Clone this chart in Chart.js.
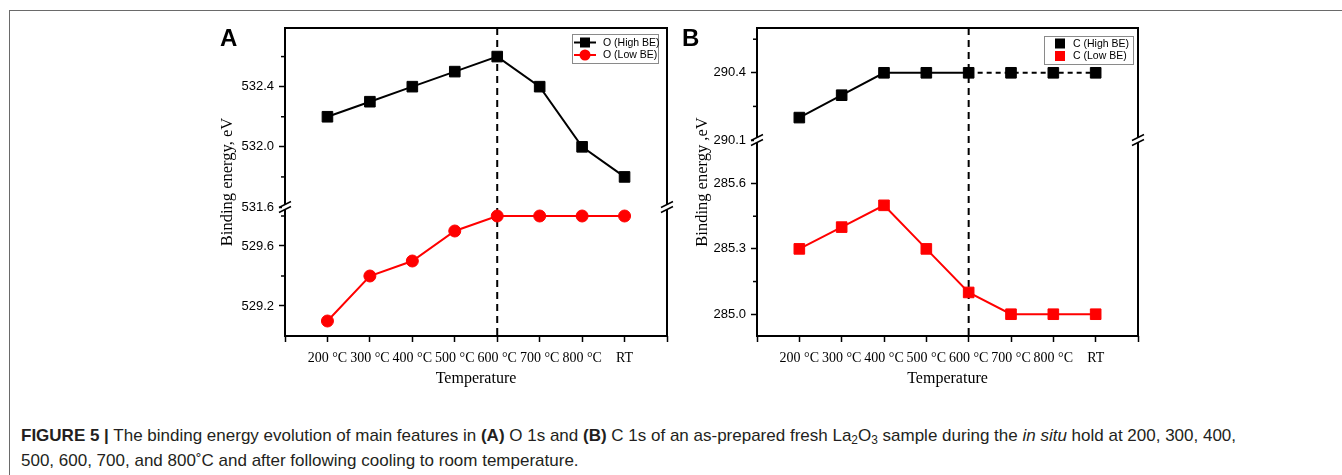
<!DOCTYPE html>
<html>
<head>
<meta charset="utf-8">
<script src="https://cdn.jsdelivr.net/npm/chart.js@4.4.0/dist/chart.umd.min.js"></script>
<style>
  body { margin: 0; width: 1342px; height: 475px; background: #fff; overflow: hidden; position: relative; font-family: "Liberation Sans", Arial, sans-serif; }
  #frame { position: absolute; left: 9px; top: 10px; width: 1400px; height: 500px; border-left: 1.5px solid #6a6a6a; border-top: 1.5px solid #6a6a6a; }
  .panel { position: absolute; top: 0; }
  #caption { position: absolute; left: 21px; top: 423px; font-size: 17px; line-height: 25px; color: #231f20; white-space: nowrap; }
  #caption sub { font-size: 70%; line-height: 0; vertical-align: -3px; }
</style>
</head>
<body>
<div id="frame"></div>
<canvas id="chartA" class="panel" width="480" height="400" style="left:200px"></canvas>
<canvas id="chartB" class="panel" width="480" height="400" style="left:670px"></canvas>
<div id="caption"><b>FIGURE 5 |</b> The binding energy evolution of main features in <b>(A)</b> O 1s and <b>(B)</b> C 1s of an as-prepared fresh La<sub>2</sub>O<sub>3</sub> sample during the <i>in situ</i> hold at 200, 300, 400,<br>500, 600, 700, and 800˚C and after following cooling to room temperature.</div>
<script>
// shared x axis
const xLabels = ['200 °C', '300 °C', '400 °C', '500 °C', '600 °C', '700 °C', '800 °C', 'RT'];
const xPos = [1, 2, 3, 4, 5, 6, 7, 8];
const xTicks = [0, 1, 2, 3, 4, 5, 6, 7, 8, 9];
const markerX = 5; // dashed line at 600 °C

// panel A, O 1s
const oHigh = [532.2, 532.3, 532.4, 532.5, 532.6, 532.4, 532.0, 531.8];
const oLow = [529.1, 529.4, 529.5, 529.7, 529.8, 529.8, 529.8, 529.8];
const aTopTicks = [531.6, 532.0, 532.4];
const aTopMinor = [531.8, 532.2, 532.6];
const aBotTicks = [529.2, 529.6];
const aBotMinor = [529.4, 529.8];

// panel B, C 1s
const cHigh = [290.2, 290.3, 290.4, 290.4, 290.4, 290.4, 290.4, 290.4];
const cLow = [285.3, 285.4, 285.5, 285.3, 285.1, 285.0, 285.0, 285.0];
const bTopTicks = [290.1, 290.4];
const bTopMinor = [290.25, 290.55];
const bBotTicks = [285.0, 285.3, 285.6];
const bBotMinor = [285.15, 285.45];

const toPoints = vals => vals.map((v, i) => ({x: xPos[i], y: v}));

function line(ctx, x1, y1, x2, y2) {
    ctx.beginPath();
    ctx.moveTo(x1, y1);
    ctx.lineTo(x2, y2);
    ctx.stroke();
}

function marker(ctx, style, x, y, r, color) {
    ctx.fillStyle = color;
    if (style == 'circle') {
        ctx.beginPath();
        ctx.arc(x, y, r, 0, Math.PI * 2);
        ctx.fill();
    } else {
        ctx.fillRect(x - r, y - r, 2 * r, 2 * r);
    }
}

function makeDecor(cfg) {
    return {
        id: 'decor',
        beforeDatasetsDraw(chart) {
            const {ctx, chartArea: a, scales} = chart;
            const x = scales.x.getPixelForValue(markerX);
            ctx.save();
            ctx.strokeStyle = '#000';
            ctx.lineWidth = 2;
            ctx.setLineDash([7, 5]);
            line(ctx, x, a.top, x, a.bottom);
            ctx.restore();
        },
        afterDraw(chart) {
            const {ctx, chartArea: a, scales} = chart;
            ctx.save();
            ctx.strokeStyle = '#000';
            ctx.lineWidth = 2;
            ctx.strokeRect(a.left, a.top, a.right - a.left, a.bottom - a.top);

            // minor ticks
            ctx.lineWidth = 1.5;
            cfg.topMinor.forEach(v => {
                const y = scales.yTop.getPixelForValue(v);
                line(ctx, a.left - 4, y, a.left, y);
            });
            cfg.botMinor.forEach(v => {
                const y = scales.yBot.getPixelForValue(v);
                line(ctx, a.left - 4, y, a.left, y);
            });

            // axis break
            const yb = scales.yTop.bottom;
            [a.left, a.right].forEach(xb => {
                ctx.fillStyle = '#fff';
                ctx.fillRect(xb - 3, yb - 2.5, 6, 5);
                ctx.lineWidth = 1.5;
                line(ctx, xb - 6, yb - 2.5 + 3, xb + 6, yb - 2.5 - 3);
                line(ctx, xb - 6, yb + 2.5 + 3, xb + 6, yb + 2.5 - 3);
            });

            // titles
            ctx.fillStyle = '#000';
            ctx.font = '16px "Liberation Serif"';
            ctx.textAlign = 'center';
            ctx.textBaseline = 'middle';
            ctx.fillText('Temperature', (a.left + a.right) / 2, 379);
            ctx.save();
            ctx.translate(cfg.titleX, (a.top + a.bottom) / 2);
            ctx.rotate(-Math.PI / 2);
            ctx.font = '16.5px "Liberation Serif"';
            ctx.fillText(cfg.yTitle, 0, 0);
            ctx.restore();

            ctx.font = 'bold 24px "Liberation Sans"';
            ctx.textAlign = 'left';
            ctx.textBaseline = 'alphabetic';
            ctx.fillText(cfg.letter, cfg.letterX, 46);

            // legend
            const lg = cfg.legend;
            const bx = a.right - lg.right - lg.width;
            const by = a.top + lg.top;
            ctx.strokeStyle = '#8a8a8a';
            ctx.lineWidth = 1;
            ctx.strokeRect(bx + 0.5, by + 0.5, lg.width, lg.height);
            ctx.font = '10.5px "Liberation Sans"';
            ctx.textBaseline = 'middle';
            lg.items.forEach((it, i) => {
                const y = by + lg.rows[i];
                if (lg.lines) {
                    ctx.strokeStyle = it.color;
                    ctx.lineWidth = 2;
                    line(ctx, bx + 2, y, bx + 24, y);
                }
                marker(ctx, it.style, bx + lg.markX, y, it.style == 'circle' ? 5.5 : 5, it.color);
                ctx.fillStyle = '#000';
                ctx.fillText(it.label, bx + lg.textX, y + 0.5);
            });
            ctx.restore();
        }
    };
}

function yScale(min, max, weight, ticks, width) {
    return {
        type: 'linear',
        position: 'left',
        stack: 'y',
        stackWeight: weight,
        min: min,
        max: max,
        afterBuildTicks: s => { s.ticks = ticks.map(v => ({value: v})); },
        afterFit: s => { s.width = width; },
        border: {display: false},
        grid: {drawOnChartArea: false, tickLength: 6, tickColor: '#000', tickWidth: 1.5},
        ticks: {
            color: '#000',
            font: {family: 'Liberation Sans', size: 13},
            padding: 5,
            callback: v => v.toFixed(1)
        }
    };
}

function makeChart(id, cfg) {
    return new Chart(document.getElementById(id), {
        type: 'line',
        data: {datasets: cfg.datasets},
        options: {
            responsive: false,
            animation: false,
            layout: {padding: {top: 28, right: cfg.padRight, left: 0, bottom: 0}},
            plugins: {legend: {display: false}, tooltip: {enabled: false}},
            scales: {
                x: {
                    type: 'linear',
                    min: 0,
                    max: 9,
                    afterBuildTicks: s => { s.ticks = xTicks.map(v => ({value: v})); },
                    afterFit: s => { s.height = 64; },
                    border: {display: false},
                    grid: {drawOnChartArea: false, tickLength: 6, tickColor: '#000', tickWidth: 1.5},
                    ticks: {
                        color: '#000',
                        font: {family: 'Liberation Serif', size: 14},
                        padding: 8,
                        maxRotation: 0,
                        autoSkip: false,
                        callback: v => xLabels[xPos.indexOf(v)] || ''
                    }
                },
                // in a stack the last scale listed sits on top
                yBot: yScale(cfg.bot[0], cfg.bot[1], cfg.bot[2], cfg.botTicks, cfg.yWidth),
                yTop: yScale(cfg.top[0], cfg.top[1], cfg.top[2], cfg.topTicks, cfg.yWidth)
            }
        },
        plugins: [makeDecor(cfg)]
    });
}

makeChart('chartA', {
    datasets: [
        {data: toPoints(oHigh), yAxisID: 'yTop', borderColor: '#000', backgroundColor: '#000', borderWidth: 2,
         pointStyle: 'rect', pointRadius: 7.5, pointBorderWidth: 1},
        {data: toPoints(oLow), yAxisID: 'yBot', borderColor: '#ff0000', backgroundColor: '#ff0000', borderWidth: 2,
         pointStyle: 'circle', pointRadius: 6, pointBorderWidth: 1}
    ],
    top: [531.6, 532.79, 179], bot: [529.0, 529.86, 129],
    topTicks: aTopTicks, botTicks: aBotTicks, topMinor: aTopMinor, botMinor: aBotMinor,
    yWidth: 85, padRight: 13,
    letter: 'A', letterX: 20, yTitle: 'Binding energy, eV', titleX: 28,
    legend: {right: 9, top: 6, width: 86, height: 29, rows: [8.5, 21], markX: 13, textX: 31, lines: true,
             items: [{label: 'O (High BE)', color: '#000', style: 'rect'},
                     {label: 'O (Low BE)', color: '#ff0000', style: 'circle'}]}
});

makeChart('chartB', {
    datasets: [
        {data: toPoints(cHigh), yAxisID: 'yTop', borderColor: '#000', backgroundColor: '#000', borderWidth: 2,
         pointStyle: 'rect', pointRadius: 7.5, pointBorderWidth: 1,
         segment: {borderDash: ctx => ctx.p0DataIndex >= 4 ? [5, 4] : undefined}},
        {data: toPoints(cLow), yAxisID: 'yBot', borderColor: '#ff0000', backgroundColor: '#ff0000', borderWidth: 2,
         pointStyle: 'rect', pointRadius: 7.5, pointBorderWidth: 1}
    ],
    top: [290.1, 290.6, 112], bot: [284.9, 285.8, 196],
    topTicks: bTopTicks, botTicks: bBotTicks, topMinor: bTopMinor, botMinor: bBotMinor,
    yWidth: 87, padRight: 12,
    letter: 'B', letterX: 12, yTitle: 'Binding energy ,eV', titleX: 33,
    legend: {right: 5, top: 8, width: 89, height: 28, rows: [7.5, 20], markX: 16, textX: 29, lines: false,
             items: [{label: 'C (High BE)', color: '#000', style: 'rect'},
                     {label: 'C (Low BE)', color: '#ff0000', style: 'rect'}]}
});
</script>
</body>
</html>
